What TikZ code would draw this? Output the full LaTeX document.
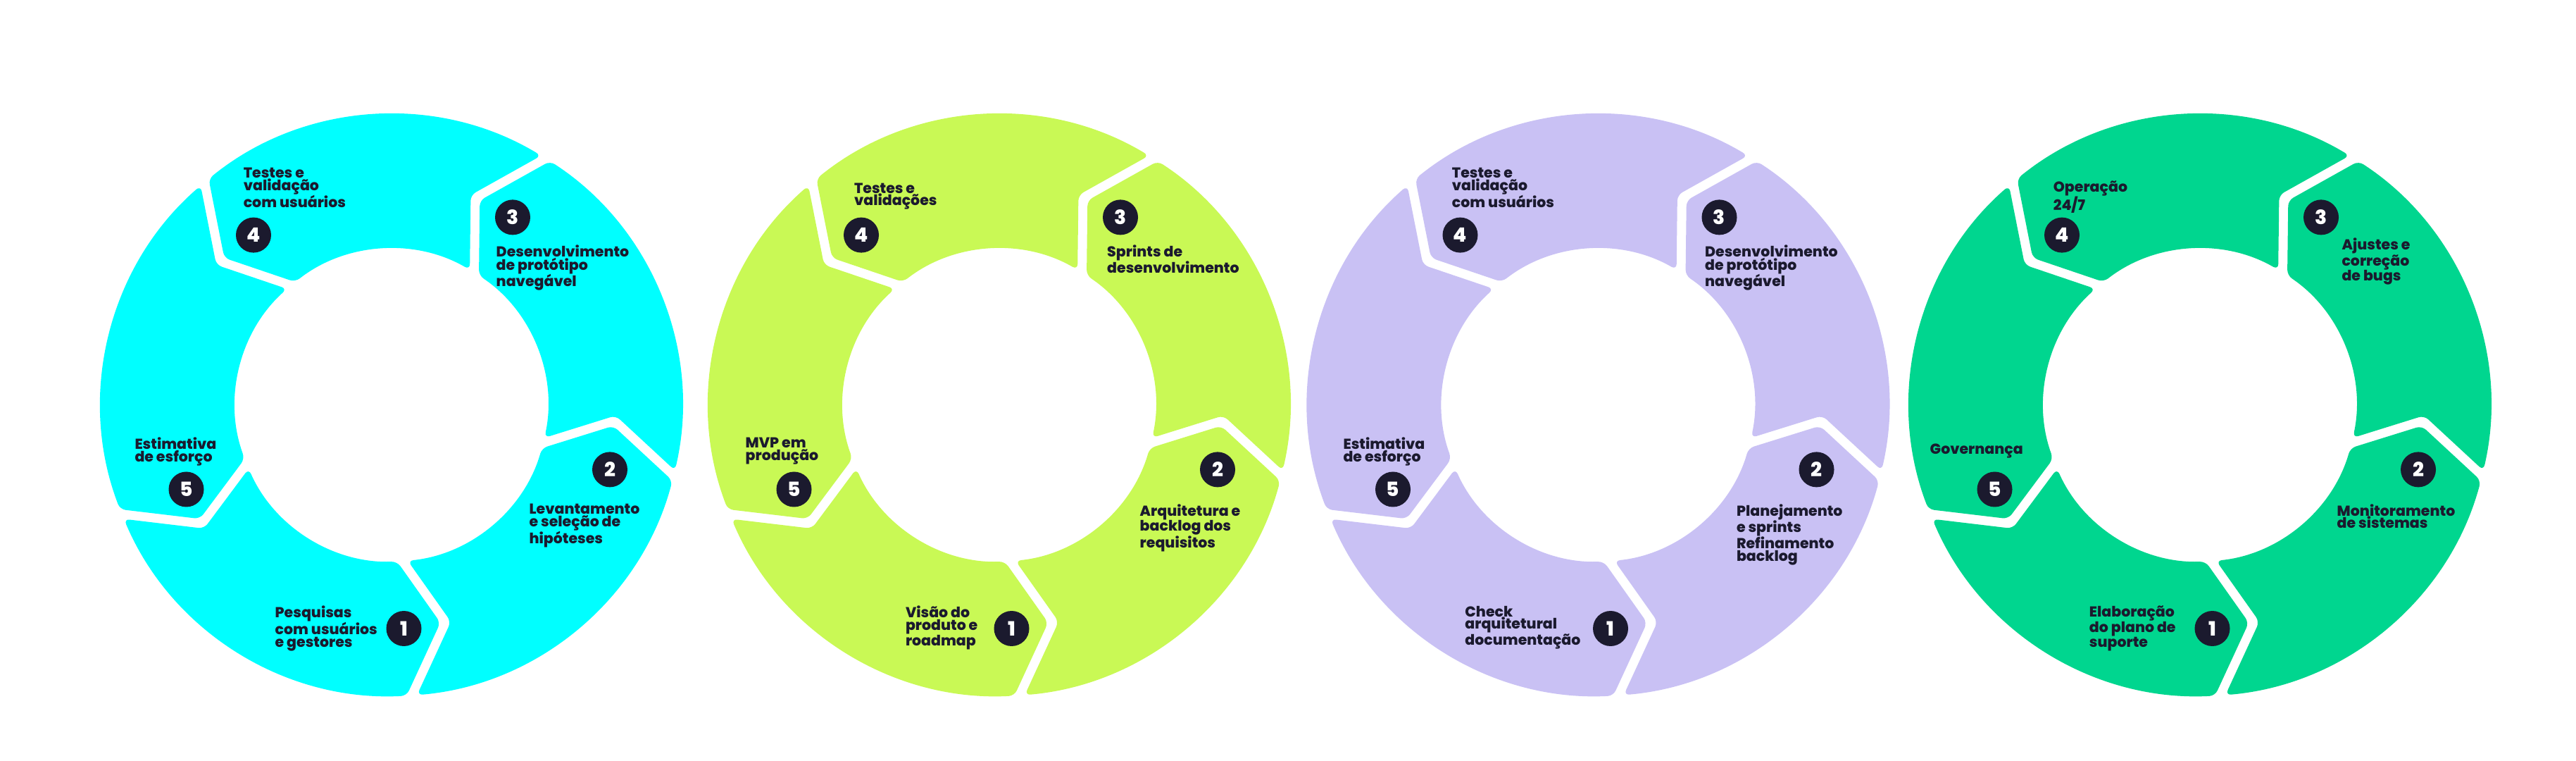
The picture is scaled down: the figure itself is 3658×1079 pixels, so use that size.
\documentclass[tikz,border=0pt]{standalone}
\usepackage{fontspec}
\setmainfont{Poppins}[BoldFont={Poppins ExtraBold}]
\usepackage{tikz}
\usetikzlibrary{calc}
\definecolor{ringcyan}{HTML}{00FFFF}
\definecolor{ringlime}{HTML}{C9F955}
\definecolor{ringlilac}{HTML}{C9C1F4}
\definecolor{ringgreen}{HTML}{00D68F}
\definecolor{ink}{HTML}{1B1A2E}
\tikzstyle{segment}=[rounded corners=8pt]
\tikzstyle{badge}=[circle,fill=ink,text=white,minimum size=50pt,inner sep=0pt,font=\bfseries\fontsize{28}{28}\selectfont]
\tikzstyle{steptext}=[anchor=north west,inner sep=0pt,align=left,text=ink,font=\bfseries\fontsize{20.5}{17.5}\selectfont]

\begin{document}
\begin{tikzpicture}[x=1pt,y=1pt]
  \useasboundingbox (0,0) rectangle (3658,1079);

  \def\rout{413};
  \def\rmid{317.5};
  \def\rin{222};

  % four rings, five chevron segments each
  \foreach \ring/\cx/\col in {1/556/ringcyan, 2/1419/ringlime, 3/2269.5/ringlilac, 4/3124/ringgreen} {
    \begin{scope}[shift={(\cx,504)}]
      \foreach \a in {-14,58,130,202,274} {
        \pgfmathsetmacro{\b}{\a+72}
        \fill[segment,\col] (\a+1.03:\rout) arc[start angle=\a+1.03, end angle=\b-1.03, radius=\rout pt]
          -- (\b+8.66:\rmid-1.14) -- (\b-1.96:\rin)
          arc[start angle=\b-1.96, end angle=\a+1.96, radius=\rin pt]
          -- (\a+11.34:\rmid+1.14) -- cycle;
      }
      \foreach \bx/\by/\num in {17.5/-317/1, 310/-91.4/2, 172/266.6/3, -196/241.4/4, -291.5/-119.5/5}
        \node[badge] (b\ring\num) at (\bx,\by) {\num};
    \end{scope}
  }

  % labels of ring 1
  \foreach \x/\y/\name/\label in {390.5/219/t11/{Pesquisas\\com usuários\\e gestores},
      751.4/363.8/t12/{Levantamento\\e seleção de\\hipóteses},
      704.5/731.4/t13/{Desenvolvimento\\de protótipo\\navegável},
      345.6/840.8/t14/{Testes e\\validação\\com usuários},
      191.3/458/t15/{Estimativa\\de esforço}}
    \node[steptext] (\name) at (\x,\y) {\label};

  % labels of ring 2
  \foreach \x/\y/\name/\label in {1285.8/219/t21/{Visão do\\produto e\\roadmap},
      1618.5/363.8/t22/{Arquitetura e\\backlog dos\\requisitos},
      1572/731.4/t23/{Sprints de\\desenvolvimento},
      1212.8/819.5/t24/{Testes e\\validações},
      1058.5/458/t25/{MVP em\\produção}}
    \node[steptext] (\name) at (\x,\y) {\label};

  % labels of ring 3
  \foreach \x/\y/\name/\label in {2080.2/219/t31/{Check\\arquitetural\\documentação},
      2465.8/363.8/t32/{Planejamento\\e sprints\\Refinamento\\backlog},
      2420.9/731.4/t33/{Desenvolvimento\\de protótipo\\navegável},
      2061.7/840.8/t34/{Testes e\\validação\\com usuários},
      1907.3/458/t35/{Estimativa\\de esforço}}
    \node[steptext] (\name) at (\x,\y) {\label};

  % labels of ring 4
  \foreach \x/\y/\name/\label in {2966.7/219/t41/{Elaboração\\do plano de\\suporte},
      3318.5/363.8/t42/{Monitoramento\\de sistemas},
      3325.3/740.9/t43/{Ajustes e\\correção\\de bugs},
      2915.6/822.3/t44/{Operação\\24/7},
      2740.5/449/t45/{Governança}}
    \node[steptext] (\name) at (\x,\y) {\label};

\end{tikzpicture}
\end{document}
